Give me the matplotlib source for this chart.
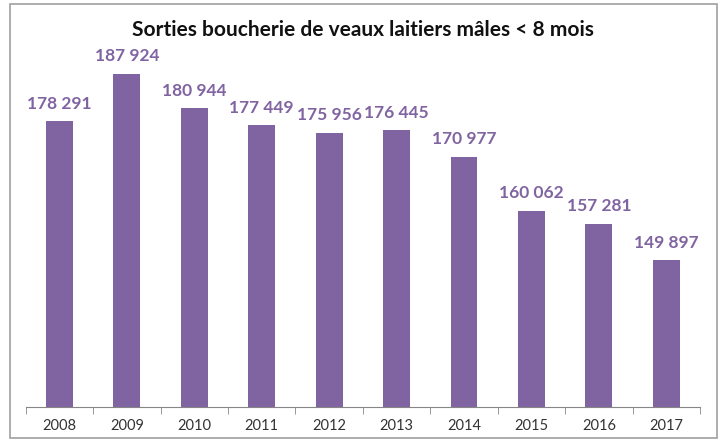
import numpy as np
import matplotlib
matplotlib.use("Agg")
import matplotlib.pyplot as plt
from matplotlib.patches import Rectangle

years = ["2008", "2009", "2010", "2011", "2012", "2013", "2014", "2015", "2016", "2017"]
values = [178291, 187924, 180944, 177449, 175956, 176445, 170977, 160062, 157281, 149897]
labels = ["178 291", "187 924", "180 944", "177 449", "175 956",
          "176 445", "170 977", "160 062", "157 281", "149 897"]

purple = "#8064A2"
plt.rcParams['font.family'] = ['Lato', 'DejaVu Sans']

fig = plt.figure(figsize=(7.25, 4.42), dpi=100)
ax = fig.add_axes([0.0355, 0.0799, 0.93, 0.886])

x = np.arange(len(years))
ax.bar(x, values, width=0.4, color=purple, zorder=2)
for xi, v, lab in zip(x, values, labels):
    ax.annotate(lab, (xi, v), xytext=(0, 7), textcoords="offset points",
                ha="center", va="bottom", fontsize=12.5, fontweight="bold", color=purple)

ax.set_xlim(-0.5, len(years) - 0.5)
ax.set_ylim(120000, 200000)
ax.set_yticks([])
for s in ["top", "right", "left"]:
    ax.spines[s].set_visible(False)
ax.spines["bottom"].set_color("#868686")
ax.set_xticks(x)
ax.set_xticklabels(years, fontsize=10.5, color="#333333")
ax.tick_params(axis="x", which="major", length=0, pad=9)
ax.set_xticks(np.arange(-0.5, len(years)), minor=True)
ax.tick_params(axis="x", which="minor", length=5, color="#868686")

fig.text(0.5, 0.932, "Sorties boucherie de veaux laitiers mâles < 8 mois",
         ha="center", va="center", fontsize=15, fontweight="bold", color="#111111")

fig.patches.append(Rectangle((10 / 725, 4 / 442), 707 / 725, 434 / 442,
                             transform=fig.transFigure, fill=False,
                             edgecolor="#a0a0a0", linewidth=1.2))

fig.savefig("out.png", dpi=100)
